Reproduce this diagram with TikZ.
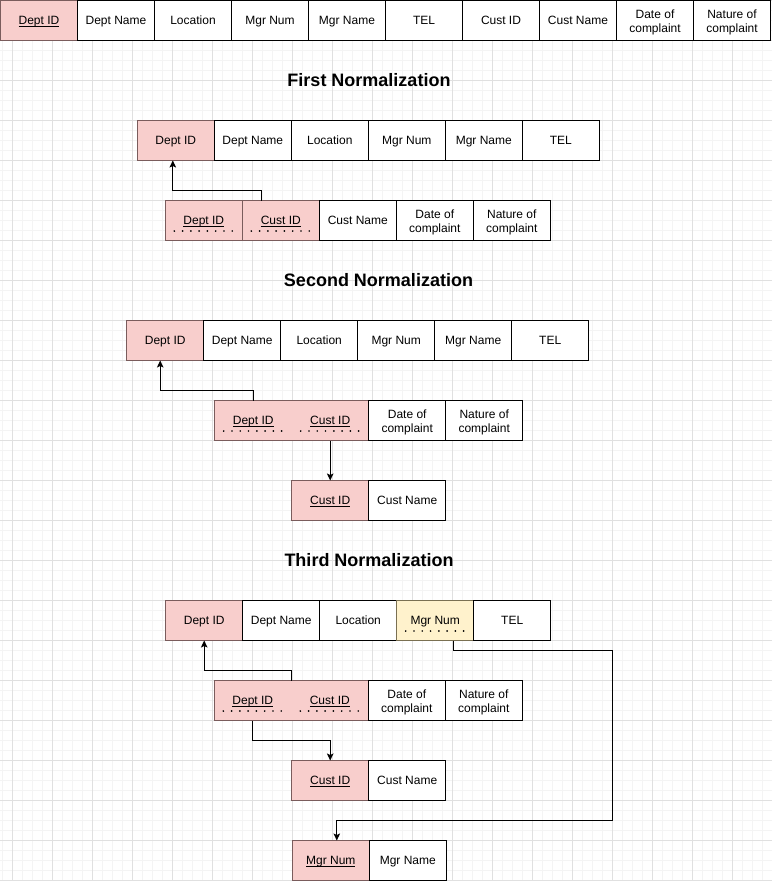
\documentclass[tikz,border=0pt]{standalone}
\usepackage{fontspec}
\setmainfont{Liberation Sans}
\usetikzlibrary{positioning,arrows.meta}
\definecolor{f8cecc}{HTML}{F8CECC}
\definecolor{fff2cc}{HTML}{FFF2CC}
\definecolor{7a5c5c}{HTML}{7A5C5C}
\definecolor{7a7052}{HTML}{7A7052}
\definecolor{e0e0e0}{HTML}{E0E0E0}
\definecolor{f4f4f4}{HTML}{F4F4F4}
\newcommand*{\pk}[1]{\setbox0\hbox{#1}\rlap{\rule[-1.9pt]{\wd0}{0.9pt}}\box0}
\newcommand*{\two}[2]{\rule{0pt}{12pt}#1\\#2}

\begin{document}
\begin{tikzpicture}[x=1pt,y=-1pt,>={Stealth[length=7pt,width=6.5pt,inset=1.5pt]},
    box/.style={draw,fill=white,line width=1pt,minimum width=77pt,minimum height=40pt,inner sep=0pt,outer sep=0pt,font=\fontsize{12}{14.5}\selectfont},
    cell/.style={box,text height=8.6pt,text depth=0pt},
    twoline/.style={box,align=center},
    key/.style={fill=f8cecc,draw=7a5c5c},
    keyhalf/.style={key,draw=none},
    fk/.style={fill=fff2cc,draw=7a7052},
    title/.style={font=\fontsize{18}{20}\selectfont\bfseries,text height=13pt,text depth=0pt},
    keydots/.style={line width=1.9pt,line cap=round,dash pattern=on 0pt off 8.28pt},
    link/.style={->,line width=1pt}]
    \useasboundingbox(0,0)rectangle(772,881);
    % grid
    \foreach \x in {2.5,12.5,...,772}\draw[f4f4f4,line width=.8pt](\x,0)--(\x,881);
    \foreach \y in {0,10,...,881}\draw[f4f4f4,line width=.8pt](0,\y)--(772,\y);
    \foreach \x in {12.5,52.5,...,772}\draw[e0e0e0,line width=.8pt](\x,0)--(\x,881);
    \foreach \y in {0,40,...,881}\draw[e0e0e0,line width=.8pt](0,\y)--(772,\y);
    % unnormalized table
    \node[cell,key,anchor=north west](U1)at(.5,.5){\pk{Dept ID}};
    \node[cell,right=0pt of U1](U2){Dept Name};
    \node[cell,right=0pt of U2](U3){Location};
    \node[cell,right=0pt of U3](U4){Mgr Num};
    \node[cell,right=0pt of U4](U5){Mgr Name};
    \node[cell,right=0pt of U5](U6){TEL};
    \node[cell,right=0pt of U6](U7){Cust ID};
    \node[cell,right=0pt of U7](U8){Cust Name};
    \node[twoline,right=0pt of U8](U9){\two{Date of}{complaint}};
    \node[twoline,right=0pt of U9](U10){\two{Nature of}{complaint}};
    % first normalization
    \node[title](T1)at(369,80){First Normalization};
    \node[cell,key,anchor=north west](A1)at(137.3,120.5){Dept ID};
    \node[cell,right=0pt of A1](A2){Dept Name};
    \node[cell,right=0pt of A2](A3){Location};
    \node[cell,right=0pt of A3](A4){Mgr Num};
    \node[cell,right=0pt of A4](A5){Mgr Name};
    \node[cell,right=0pt of A5](A6){TEL};
    \node[cell,key,anchor=north west](B1)at(165.3,200.5){\pk{Dept ID}};
    \node[cell,key,right=0pt of B1](B2){\pk{Cust ID}};
    \node[cell,right=0pt of B2](B3){Cust Name};
    \node[twoline,right=0pt of B3](B4){\two{Date of}{complaint}};
    \node[twoline,right=0pt of B4](B5){\two{Nature of}{complaint}};
    \draw[keydots]([xshift=-29.5pt,yshift=-10.5pt]B1.center)--++(58,0);
    \draw[keydots]([xshift=-29.5pt,yshift=-10.5pt]B2.center)--++(58,0);
    \draw[link]([xshift=-19pt]B2.north)--++(0,-10)-|([xshift=-3pt]A1.south);
    % second normalization
    \node[title](T2)at(378.5,280){Second Normalization};
    \node[cell,key,anchor=north west](C1)at(126.7,320.5){Dept ID};
    \node[cell,right=0pt of C1](C2){Dept Name};
    \node[cell,right=0pt of C2](C3){Location};
    \node[cell,right=0pt of C3](C4){Mgr Num};
    \node[cell,right=0pt of C4](C5){Mgr Name};
    \node[cell,right=0pt of C5](C6){TEL};
    \node[cell,keyhalf,anchor=north west](D1)at(214.7,400.5){\pk{Dept ID}};
    \node[cell,keyhalf,right=0pt of D1](D2){\pk{Cust ID}};
    \draw[7a5c5c,line width=1pt](D1.north west)rectangle(D2.south east);
    \node[twoline,right=0pt of D2](D3){\two{Date of}{complaint}};
    \node[twoline,right=0pt of D3](D4){\two{Nature of}{complaint}};
    \draw[keydots]([xshift=-29.5pt,yshift=-10.5pt]D1.center)--++(58,0);
    \draw[keydots]([xshift=-29.5pt,yshift=-10.5pt]D2.center)--++(58,0);
    \node[cell,key,anchor=north west](E1)at(291.7,480.5){\pk{Cust ID}};
    \node[cell,right=0pt of E1](E2){Cust Name};
    \draw[link](D1.north)--++(0,-10)-|([xshift=-5pt]C1.south);
    \draw[link](D2.south)--(E1.north);
    % third normalization
    \node[title](T3)at(369,560){Third Normalization};
    \node[cell,key,anchor=north west](F1)at(165.7,600.5){Dept ID};
    \node[cell,right=0pt of F1](F2){Dept Name};
    \node[cell,right=0pt of F2](F3){Location};
    \node[cell,fk,right=0pt of F3](F4){Mgr Num};
    \node[cell,right=0pt of F4](F5){TEL};
    \draw[keydots]([xshift=-29.5pt,yshift=-10.5pt]F4.center)--++(58,0);
    \node[cell,keyhalf,anchor=north west](G1)at(214.3,680.5){\pk{Dept ID}};
    \node[cell,keyhalf,right=0pt of G1](G2){\pk{Cust ID}};
    \draw[7a5c5c,line width=1pt](G1.north west)rectangle(G2.south east);
    \node[twoline,right=0pt of G2](G3){\two{Date of}{complaint}};
    \node[twoline,right=0pt of G3](G4){\two{Nature of}{complaint}};
    \draw[keydots]([xshift=-29.5pt,yshift=-10.5pt]G1.center)--++(58,0);
    \draw[keydots]([xshift=-29.5pt,yshift=-10.5pt]G2.center)--++(58,0);
    \node[cell,key,anchor=north west](H1)at(291.7,760.5){\pk{Cust ID}};
    \node[cell,right=0pt of H1](H2){Cust Name};
    \node[cell,key,anchor=north west](J1)at(292.3,840.5){\pk{Mgr Num}};
    \node[cell,right=0pt of J1](J2){Mgr Name};
    \draw[link](G1.north east)--++(0,-10)-|(F1.south);
    \draw[link](G1.south)--++(0,20)-|(H1.north);
    \coordinate(R)at(612.7,820.3);
    \draw[link]([xshift=18pt]F4.south)--++(0,10)-|(R)-|([xshift=6pt]J1.north);
\end{tikzpicture}
\end{document}
